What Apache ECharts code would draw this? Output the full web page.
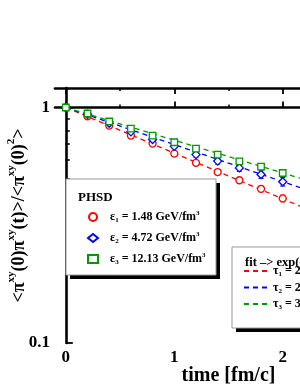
<!DOCTYPE html>
<html><head><meta charset="utf-8">
<script src="https://cdn.jsdelivr.net/npm/echarts@6/dist/echarts.min.js"></script>
<style>html,body{margin:0;padding:0;background:#fff}#c{width:300px;height:388px}</style>
</head><body><div id="c"></div>
<script>
// ---- data ----
var times = [0, 0.2, 0.4, 0.6, 0.8, 1.0, 1.2, 1.4, 1.6, 1.8, 2.0];
var red   = [1.0, 0.918, 0.838, 0.760, 0.703, 0.637, 0.582, 0.532, 0.491, 0.451, 0.411];
var blue  = [1.0, 0.936, 0.857, 0.788, 0.731, 0.684, 0.631, 0.592, 0.554, 0.519, 0.484];
var green = [1.0, 0.943, 0.872, 0.814, 0.760, 0.712, 0.669, 0.631, 0.591, 0.561, 0.527];
var redErr   = [0.005, 0.008, 0.010, 0.010, 0.011, 0.011, 0.012, 0.012, 0.012, 0.012, 0.013];
var blueErr  = [0.005, 0.010, 0.012, 0.013, 0.014, 0.015, 0.016, 0.017, 0.018, 0.019, 0.020];
var greenErr = [0.005, 0.009, 0.011, 0.012, 0.012, 0.013, 0.013, 0.014, 0.014, 0.015, 0.015];
// fit lines: end points
var fitT     = [0, 3.0];
var fitRed   = [1.0, 0.262];
var fitBlue  = [1.0, 0.337];
var fitGreen = [1.0, 0.383];
var xMajor = [0, 1, 2, 3];
var xMinor = [0.5, 1.5, 2.5];
var yMajor = [0.1, 1];
var yMajorLabels = ['0.1', '1'];
var yMinor = [0.2, 0.3, 0.4, 0.5, 0.6, 0.7, 0.8, 0.9];
var seriesNames = ['e1', 'e2', 'e3'];
var epsLabels = ['1.48', '4.72', '12.13'];
var fitNames = ['t1', 't2', 't3'];
var tauLabels = ['2.24', '2.77', '3.13'];

var RED = '#ff0000', BLUE = '#0000ff', GREEN = '#009900';
var FF = 'Liberation Serif';
var L = Math.log10;
var XMIN = -0.1, XMAX = 3.1, YMIN = L(0.1), YMAX = L(1.21);

function pts(vals) { return times.map(function (t, i) { return [t, L(vals[i])]; }); }
function errs(vals, e) { return times.map(function (t, i) { return [t, L(vals[i] - e[i]), L(vals[i] + e[i])]; }); }
function fit(vals) { return fitT.map(function (t, i) { return [t, L(vals[i])]; }); }

function errSeries(vals, e, color) {
  return {
    type: 'custom', xAxisIndex: 0, yAxisIndex: 0, z: 3, silent: true,
    data: errs(vals, e),
    renderItem: function (params, api) {
      var lo = api.coord([api.value(0), api.value(1)]);
      var hi = api.coord([api.value(0), api.value(2)]);
      var w = 2.5;
      var st = { stroke: color, lineWidth: 1.1 };
      return { type: 'group', children: [
        { type: 'line', shape: { x1: lo[0], y1: lo[1], x2: hi[0], y2: hi[1] }, style: st },
        { type: 'line', shape: { x1: lo[0] - w, y1: lo[1], x2: lo[0] + w, y2: lo[1] }, style: st },
        { type: 'line', shape: { x1: hi[0] - w, y1: hi[1], x2: hi[0] + w, y2: hi[1] }, style: st }
      ] };
    }
  };
}
function scatter(name, vals, color, symbol, size) {
  return { name: name, type: 'scatter', xAxisIndex: 0, yAxisIndex: 0, z: 4,
    symbol: symbol, symbolSize: size, data: pts(vals),
    itemStyle: { color: '#ffffff', borderColor: color, borderWidth: 1.3, opacity: 1 } };
}
function fitLine(name, vals, color) {
  return { name: name, type: 'line', xAxisIndex: 0, yAxisIndex: 0, z: 2,
    symbol: 'none', data: fit(vals), silent: true,
    lineStyle: { color: color, width: 1.3, type: [5, 4] }, itemStyle: { color: color } };
}

var legendRich = {
  sp: { width: 7 },
  m: { fontFamily: FF, fontWeight: 'bold', fontSize: 12, color: '#000', lineHeight: 20, verticalAlign: 'middle' },
  sub: { fontFamily: FF, fontWeight: 'bold', fontSize: 7, color: '#000', lineHeight: 20, verticalAlign: 'bottom', padding: [0, 0, 3, 0] },
  sup: { fontFamily: FF, fontWeight: 'bold', fontSize: 7, color: '#000', lineHeight: 20, verticalAlign: 'top', padding: [3, 0, 0, 0] }
};

var axisBase = { type: 'value', gridIndex: 0, min: XMIN, max: XMAX };
var yBase = { type: 'value', gridIndex: 0, min: YMIN, max: YMAX };
var blackLine = { show: true, lineStyle: { color: '#000', width: 2.6 } };

var option = {
  animation: false,
  backgroundColor: '#ffffff',
  grid: { left: 55, top: 88, right: -102, bottom: 45, containLabel: false, outerBoundsMode: 'none' },
  xAxis: [
    Object.assign({}, axisBase, {
      position: 'bottom', axisLine: blackLine,
      axisTick: { show: true, inside: true, length: 6, customValues: xMajor, lineStyle: { color: '#000', width: 1.8 } },
      axisLabel: { show: true, customValues: xMajor, margin: 6, fontFamily: FF, fontWeight: 'bold', fontSize: 17, color: '#000' },
      splitLine: { show: false },
      name: 'time [fm/c]', nameLocation: 'middle', nameGap: 23, nameMoveOverlap: false,
      nameTextStyle: { fontFamily: FF, fontWeight: 'bold', fontSize: 20, color: '#000', verticalAlign: 'top' }
    }),
    Object.assign({}, axisBase, {
      position: 'bottom', axisLine: { show: false },
      axisTick: { show: true, inside: true, length: 3, customValues: xMinor, lineStyle: { color: '#000', width: 1.5 } },
      axisLabel: { show: false }, splitLine: { show: false }
    }),
    Object.assign({}, axisBase, {
      position: 'top', axisLine: blackLine,
      axisTick: { show: true, inside: true, length: 6, customValues: xMajor, lineStyle: { color: '#000', width: 1.8 } },
      axisLabel: { show: false }, splitLine: { show: false }
    }),
    Object.assign({}, axisBase, {
      position: 'top', axisLine: { show: false },
      axisTick: { show: true, inside: true, length: 3, customValues: xMinor, lineStyle: { color: '#000', width: 1.5 } },
      axisLabel: { show: false }, splitLine: { show: false }
    })
  ],
  yAxis: [
    Object.assign({}, yBase, {
      position: 'left', axisLine: blackLine,
      axisTick: { show: true, inside: true, length: 7, customValues: yMajor.map(L), lineStyle: { color: '#000', width: 1.8 } },
      axisLabel: { show: true, customValues: yMajor.map(L), margin: 5, fontFamily: FF, fontWeight: 'bold', fontSize: 17, color: '#000',
        formatter: function (v) { var i = yMajor.map(L).findIndex(function (q) { return Math.abs(q - v) < 1e-9; }); return i >= 0 ? yMajorLabels[i] : ''; } },
      splitLine: { show: false },
      name: '{m|<π}{s|xy}{m|(0)π}{s|xy}{m|(t)>/<π}{s|xy}{m|(0)}{s|2}{m|>}',
      nameLocation: 'middle', nameRotate: 90, nameGap: 27, nameMoveOverlap: false,
      nameTextStyle: { fontFamily: FF, fontWeight: 'bold', fontSize: 18, color: '#000',
        rich: {
          m: { fontFamily: FF, fontWeight: 'bold', fontSize: 18, color: '#000', lineHeight: 22, verticalAlign: 'bottom' },
          s: { fontFamily: FF, fontWeight: 'bold', fontSize: 11, color: '#000', lineHeight: 22, verticalAlign: 'top' }
        } }
    }),
    Object.assign({}, yBase, {
      position: 'left', axisLine: { show: false },
      axisTick: { show: true, inside: true, length: 4, customValues: yMinor.map(L), lineStyle: { color: '#000', width: 1.5 } },
      axisLabel: { show: false }, splitLine: { show: false }
    })
  ],
  graphic: [
    { type: 'rect', z: 10, shape: { x: 70, y: 183, width: 150, height: 96 }, style: { fill: '#000' } },
    { type: 'rect', z: 11, shape: { x: 66, y: 179, width: 150, height: 96 }, style: { fill: '#fff', stroke: '#999', lineWidth: 1 } },
    { type: 'text', z: 12, x: 78, y: 198, style: { text: 'PHSD', fontFamily: FF, fontWeight: 'bold', fontSize: 13, fill: '#000', verticalAlign: 'middle' } },
    { type: 'rect', z: 10, shape: { x: 236, y: 251, width: 200, height: 81 }, style: { fill: '#000' } },
    { type: 'rect', z: 11, shape: { x: 232, y: 247, width: 200, height: 81 }, style: { fill: '#fff', stroke: '#999', lineWidth: 1 } },
    { type: 'text', z: 12, x: 245, y: 262.5, style: { text: 'fit –> exp(-t/τ)', fontFamily: FF, fontWeight: 'bold', fontSize: 12.5, fill: '#000', verticalAlign: 'middle' } }
  ],
  legend: [
    { orient: 'vertical', left: 87, top: 207, z: 20, itemWidth: 10, itemHeight: 8, itemGap: 1, padding: 0,
      data: seriesNames, selectedMode: false,
      formatter: function (n) { var i = seriesNames.indexOf(n); return '{sp|}{m|ε}{sub|' + (i + 1) + '}{m| = ' + epsLabels[i] + ' GeV/fm}{sup|3}'; },
      textStyle: { rich: legendRich } },
    { orient: 'vertical', left: 243, top: 265, z: 20, itemWidth: 24, itemHeight: 10, itemGap: 0.5, padding: 0,
      data: fitNames, selectedMode: false, itemStyle: { opacity: 0 },
      formatter: function (n) { var i = fitNames.indexOf(n); return '{m|τ}{sub|' + (i + 1) + '}{m| = ' + tauLabels[i] + ' fm/c}'; },
      textStyle: { rich: legendRich } }
  ],
  series: [
    fitLine(fitNames[0], fitRed, RED),
    fitLine(fitNames[1], fitBlue, BLUE),
    fitLine(fitNames[2], fitGreen, GREEN),
    errSeries(red, redErr, RED),
    errSeries(blue, blueErr, BLUE),
    errSeries(green, greenErr, GREEN),
    scatter(seriesNames[0], red, RED, 'circle', 7),
    scatter(seriesNames[1], blue, BLUE, 'diamond', 8),
    scatter(seriesNames[2], green, GREEN, 'rect', 6.5)
  ]
};
var chart = echarts.init(document.getElementById('c'), null, { renderer: 'canvas' });
chart.setOption(option);
</script></body></html>
